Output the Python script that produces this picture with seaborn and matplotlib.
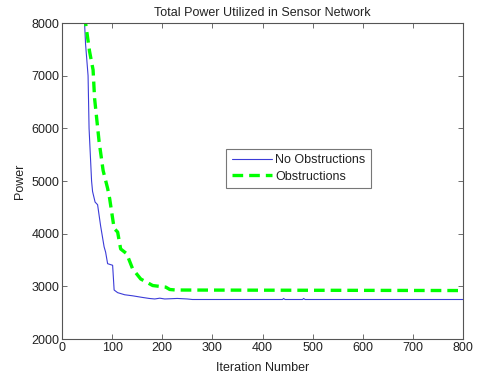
import pandas as pd
import matplotlib
matplotlib.use('Agg')
import matplotlib.pyplot as plt
import seaborn as sns

# Values
iter_no_obs = [40, 45, 47, 52, 54, 59, 61, 66, 71, 77, 84, 87, 91, 101, 104, 111, 125, 141,
               160, 174, 185, 195, 205, 230, 250, 260, 440, 442, 445, 480, 482, 485, 800]
power_no_obs = [8600, 8000, 7600, 7000, 6000, 5000, 4800, 4600, 4550, 4150, 3750, 3650, 3430,
                3400, 2930, 2880, 2840, 2820, 2790, 2770, 2760, 2775, 2760, 2770, 2760, 2750,
                2750, 2770, 2750, 2750, 2770, 2750, 2750]

iter_obs = [40, 47, 55, 62, 65, 74, 82, 91, 95, 104, 111, 117, 129, 141, 157, 181, 207,
            215, 227, 800]
power_obs = [8600, 8000, 7460, 7110, 6570, 5750, 5200, 4860, 4670, 4100, 4030, 3710, 3620,
             3330, 3140, 3015, 2985, 2940, 2930, 2920]

x_ticks = [0, 100, 200, 300, 400, 500, 600, 700, 800]
y_ticks = [2000, 3000, 4000, 5000, 6000, 7000, 8000]

df_no = pd.DataFrame({'iteration': iter_no_obs, 'power': power_no_obs})
df_obs = pd.DataFrame({'iteration': iter_obs, 'power': power_obs})

sns.set_style('ticks')
plt.rcParams['font.family'] = ['Liberation Sans', 'DejaVu Sans']
txt = '#222222'

fig = plt.figure(figsize=(4.79, 3.79), dpi=100)
ax = fig.add_axes([62 / 479, 1 - 339 / 379, 401 / 479, 316 / 379])

sns.lineplot(data=df_no, x='iteration', y='power', ax=ax, color='#3c3cd8',
             linewidth=0.8, label='No Obstructions', sort=False)
sns.lineplot(data=df_obs, x='iteration', y='power', ax=ax, color='#00ff00',
             linewidth=2.4, linestyle=(0, (3.2, 1.8)), label='Obstructions', sort=False)

ax.set_xlim(0, 800)
ax.set_ylim(2000, 8000)
ax.set_xticks(x_ticks)
ax.set_yticks(y_ticks)
ax.tick_params(direction='in', top=True, right=True, labelsize=9, length=3.5,
               width=0.6, color='#555555', labelcolor=txt, pad=2)
for sp in ax.spines.values():
    sp.set_visible(True)
    sp.set_color('#555555')
    sp.set_linewidth(0.8)

ax.set_title('Total Power Utilized in Sensor Network', fontsize=9, pad=5, color=txt)
ax.set_xlabel('Iteration Number', fontsize=9, labelpad=6, color=txt)
ax.set_ylabel('Power', fontsize=9, labelpad=4, color=txt)

leg = ax.legend(loc='center', bbox_to_anchor=(0.59, 0.54), fontsize=9, frameon=True,
                fancybox=False, handlelength=3.2, handletextpad=0.3, borderpad=0.45,
                labelspacing=0.35)
leg.get_frame().set_edgecolor('#555555')
leg.get_frame().set_linewidth(0.8)
for t in leg.get_texts():
    t.set_color(txt)

fig.savefig('out.png', dpi=100)
